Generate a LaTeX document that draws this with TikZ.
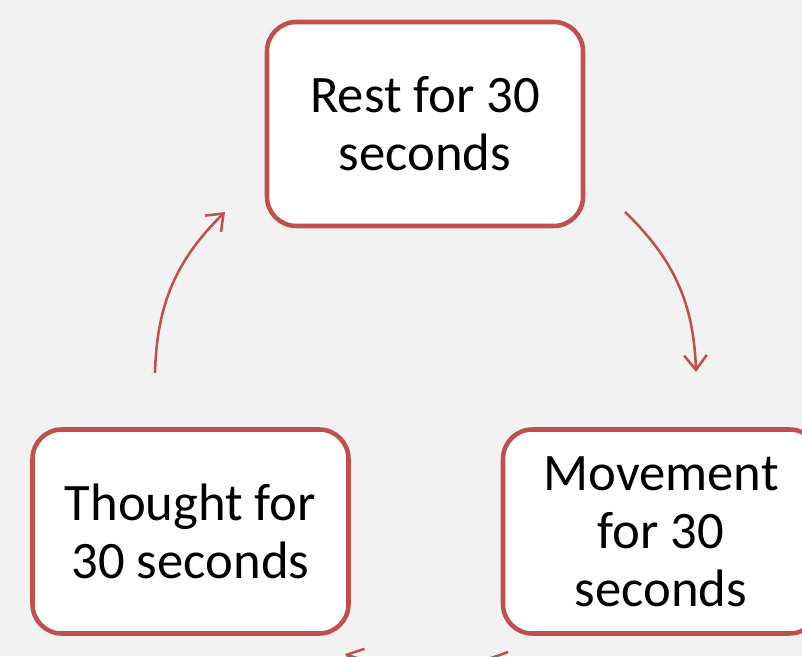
\documentclass[tikz,border=0pt]{standalone}
\usepackage{fontspec}
\setmainfont{Carlito}
\usetikzlibrary{arrows.meta}
\definecolor{boxred}{HTML}{C0504D}
\definecolor{pagegray}{HTML}{F2F2F2}

\begin{document}
\begin{tikzpicture}[x=0.75pt,y=0.75pt,
	stagebox/.style={draw=boxred,line width=3.4pt,fill=white,rounded corners=22pt,
		minimum width=237pt,minimum height=153pt,inner sep=0pt,align=center,
		font=\fontsize{39.5}{43.5}\selectfont},
	cyclearrow/.style={draw=boxred,line width=1.9pt,-{Straight Barb[length=11pt,width=17pt]}}]
		%%%%% START %%%%%
		\fill[pagegray] (0,0) rectangle (802,656);
		\useasboundingbox (0,0) rectangle (802,656);
		\clip (0,0) rectangle (802,656);
		
		\node[stagebox] (rest) at (425,532) {Rest for 30\\seconds};
		\node[stagebox] (thought) at (190.5,124.5) {Thought for\\30 seconds};
		\node[stagebox] (movement) at (661,124.5) {Movement\\for 30\\seconds};
		
		\coordinate (thoughtout) at (155,283);
		\coordinate (restin) at (225,444);
		\coordinate (restout) at (625,444);
		\coordinate (movementin) at (696,284);
		\coordinate (movementout) at (508,4);
		\coordinate (thoughtin) at (345,2);
		
		\draw[cyclearrow] (thoughtout) to[bend left=22] (restin);
		\draw[cyclearrow] (restout) to[bend left=22] (movementin);
		\draw[cyclearrow] (movementout) to[bend left=20] (thoughtin);
		%%%%% END %%%%%
\end{tikzpicture}
\end{document}
